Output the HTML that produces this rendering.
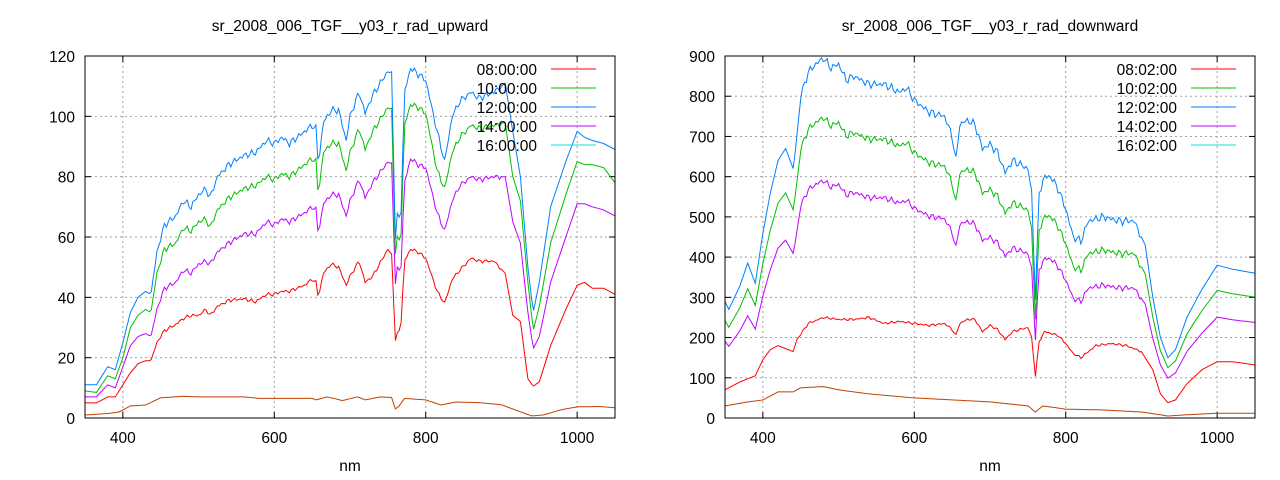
<!DOCTYPE html>
<html><head><meta charset="utf-8"><style>
html,body{margin:0;padding:0;background:#fff;}
svg{display:block;font-family:"Liberation Sans",sans-serif;}
</style></head><body>
<svg id="s" width="1280" height="480" xmlns="http://www.w3.org/2000/svg"></svg>
<script>
const NS="http://www.w3.org/2000/svg";
const svg=document.getElementById('s');
const FS=15.5;
function el(t,a,txt){const e=document.createElementNS(NS,t);for(const k in a)e.setAttribute(k,a[k]);if(txt!==undefined)e.textContent=txt;svg.appendChild(e);return e;}
function parse(s){return s.trim().split(/,\s*/).map(p=>p.split(':').map(Number));}
function interp(pts,x){for(let i=0;i<pts.length-1;i++){if(x>=pts[i][0]&&x<=pts[i+1][0]){const t=(x-pts[i][0])/(pts[i+1][0]-pts[i][0]);return pts[i][1]+t*(pts[i+1][1]-pts[i][1]);}}return pts[pts.length-1][1];}
function chart(x0,title,ymax,ystep,series,labels){
 const W=530,H=362,y0=56;
 const X=n=>x0+(n-350)/700*W, Y=v=>y0+H-v/ymax*H;
 el('text',{x:x0+W/2,y:31,'text-anchor':'middle','font-size':FS,fill:'#000'},title);
 el('text',{x:x0+W/2,y:471,'text-anchor':'middle','font-size':FS,fill:'#000'},'nm');
 for(let v=0;v<=ymax;v+=ystep){const y=Y(v);
  if(v>0&&v<ymax)el('line',{x1:x0,x2:x0+W,y1:y,y2:y,stroke:'#a0a0a0','stroke-dasharray':'2,3','stroke-width':1});
  el('line',{x1:x0,x2:x0+6,y1:y,y2:y,stroke:'#000'});el('line',{x1:x0+W-6,x2:x0+W,y1:y,y2:y,stroke:'#000'});
  el('text',{x:x0-10,y:y+6,'text-anchor':'end','font-size':FS,fill:'#000'},v);}
 for(const n of [400,600,800,1000]){const x=X(n);
  el('line',{x1:x,x2:x,y1:y0,y2:y0+H,stroke:'#a0a0a0','stroke-dasharray':'2,3'});
  el('line',{x1:x,x2:x,y1:y0+H-6,y2:y0+H,stroke:'#000'});el('line',{x1:x,x2:x,y1:y0,y2:y0+6,stroke:'#000'});
  el('text',{x:x,y:y0+H+25,'text-anchor':'middle','font-size':FS,fill:'#000'},n);}
 series.forEach(([c,pts,noise])=>{let d='';let k=0;
  for(let n=350;n<=1050;n+=2.5){let v=interp(pts,n);
   if(noise&&n>440&&n<900)v+=noise*(Math.sin(n*1.7)+0.6*Math.sin(n*3.1));
   d+=(k++?'L':'M')+X(n).toFixed(1)+','+Y(Math.max(0,v)).toFixed(1);}
  el('path',{d:d,fill:'none',stroke:c,'stroke-width':1});});
 const lc=['#ff0000','#00c000','#0080ff','#c000ff','#00e0e0'];
 labels.forEach((l,i)=>{const y=69+i*19;
  el('text',{x:x0+452,y:y+6,'text-anchor':'end','font-size':FS,fill:'#000'},l);
  el('line',{x1:x0+466,x2:x0+511,y1:y,y2:y,stroke:lc[i]});});
 el('rect',{x:x0,y:y0,width:W,height:H,fill:'none',stroke:'#000'});
}
const uB=parse("350:11,365:11,380:17,390:16,400:25,410:35,420:40,430:42,437:41,445:55,455:64,470:67,480:72,490:70,500:74,510:76,515:73,525:80,540:84,560:87,575:88,590:92,600:91,610:93,620:91,640:95,650:97,655:96,658:84,665:98,675:102,685:102,695:92,700:100,712:108,720:101,730:107,750:115,755:114,760:60,763:68,767:65,772:108,780:116,790:114,800:112,815:95,825:85,835:100,845:105,860:108,870:106,890:108,905:111,915:95,925:80,935:50,942:35,950:45,965:70,985:85,1000:95,1010:93,1020:92,1035:91,1050:89");
const uG=parse("350:9,365:8.5,380:14,390:13,400:20,410:30,420:34,430:36,437:35,445:48,455:56,470:58,480:63,490:62,500:65,510:66,515:63,525:69,540:73,560:76,575:77,590:80,600:79,610:81,620:80,640:84,650:86,655:85,658:74,665:88,675:91,685:91,695:82,700:88,712:96,720:89,730:95,750:103,755:102,760:55,763:60,767:58,772:97,780:104,790:103,800:101,815:82,825:76,835:88,845:93,860:97,870:96,890:97,905:98,915:80,925:72,935:45,942:29,950:37,965:58,985:74,1000:85,1010:84,1020:84,1035:83,1050:78");
const uP=parse("350:7,365:7,380:11,390:10,400:17,410:24,420:27,430:28,437:27,445:36,455:43,470:45,480:49,490:48,500:51,510:52,515:51,525:55,540:58,560:61,575:61,590:65,600:64,610:66,620:65,640:68,650:70,655:69,658:61,665:71,675:74,685:74,695:67,700:72,712:79,720:73,730:78,750:85,755:84,760:45,763:50,767:48,772:78,780:86,790:84,800:83,815:68,825:62,835:72,845:77,860:80,870:79,890:80,905:80,915:65,925:58,935:35,942:23,950:27,965:45,985:60,1000:71,1010:71,1020:70,1035:69,1050:67");
const uR=parse("350:5,365:5,380:7,390:7,400:11,410:15,420:18,430:19,437:19,445:25,455:29,470:31,480:33,490:34,500:34,510:36,515:34,525:37,540:39,560:39.5,575:38.5,590:41,600:41,610:42,620:42,640:44,650:46,655:45,658:40,665:48,675:51,685:50,695:44,700:47,712:52,720:45,730:47,750:56,755:54,760:26,763:28,767:30,772:52,780:56,790:55,800:53,815:42,825:38,835:46,845:49,860:53,870:52,890:52,905:48,915:34,925:32,935:13,942:10.5,950:12,965:24,985:36,1000:44,1010:45,1020:43,1035:43,1050:41");
const uO=parse("350:1,380:1.5,395:2,410:4,430:4.3,450:6.7,480:7.2,500:7,560:7,580:6.5,650:6.5,655:6,670:7,690:5.8,710:7,720:6,740:7,755:6.8,760:3,765:4,772:6.5,800:6,820:4.3,840:5.3,870:5.1,900:4.4,920:2.5,940:0.7,955:1,980:2.8,1000:3.7,1030:3.8,1050:3.4");
chart(85,'sr_2008_006_TGF__y03_r_rad_upward',120,20,[['#c04000',uO,0],['#ff0000',uR,0.4],['#c000ff',uP,0.6],['#00c000',uG,0.7],['#0080ff',uB,0.8]],['08:00:00','10:00:00','12:00:00','14:00:00','16:00:00']);
const dB=parse("350:290,355:270,360:290,370:330,380:385,390:335,400:460,410:560,420:640,430:670,440:620,445:700,450:800,460:860,470:880,480:895,490:870,500:880,510:840,520:850,540:830,560:830,580:810,590:820,600:790,620:760,640:750,650:700,655:640,660:730,670:740,680:730,690:670,700:680,710:660,720:610,730:640,740:630,750:620,755:560,760:300,765:560,772:600,780:600,790:570,800:520,810:450,820:440,830:490,850:500,870:490,890:490,905:430,915:300,925:200,935:150,945:170,960:250,980:320,1000:380,1020:370,1050:360");
const dG=dB.map(p=>[p[0],p[1]*0.835]);
const dP=dB.map(p=>[p[0],p[1]*0.66]);
const dR=parse("350:70,370:90,390:105,400:145,410:170,420:180,440:165,445:195,460:235,480:250,500:245,520:245,540:250,560:235,580:240,600:235,620:230,640:235,650:220,655:205,660:235,670:245,680:245,690:215,700:230,710:220,720:195,730:215,750:225,755:200,760:105,765:190,772:215,790:205,800:185,810:160,820:150,840:180,860:185,880:180,900:165,915:120,925:60,935:38,945:45,960:85,980:120,1000:140,1020:140,1050:132");
const dO=parse("350:30,380:40,400:45,420:65,440:65,450:75,480:78,500:70,540:60,600:50,650:45,700:40,750:30,760:15,770:30,800:22,850:20,900:15,935:5,960:8,1000:12,1050:12");
chart(725,'sr_2008_006_TGF__y03_r_rad_downward',900,100,[['#c04000',dO,0],['#ff0000',dR,2],['#c000ff',dP,5],['#00c000',dG,6],['#0080ff',dB,7]],['08:02:00','10:02:00','12:02:00','14:02:00','16:02:00']);
</script>
</body></html>
